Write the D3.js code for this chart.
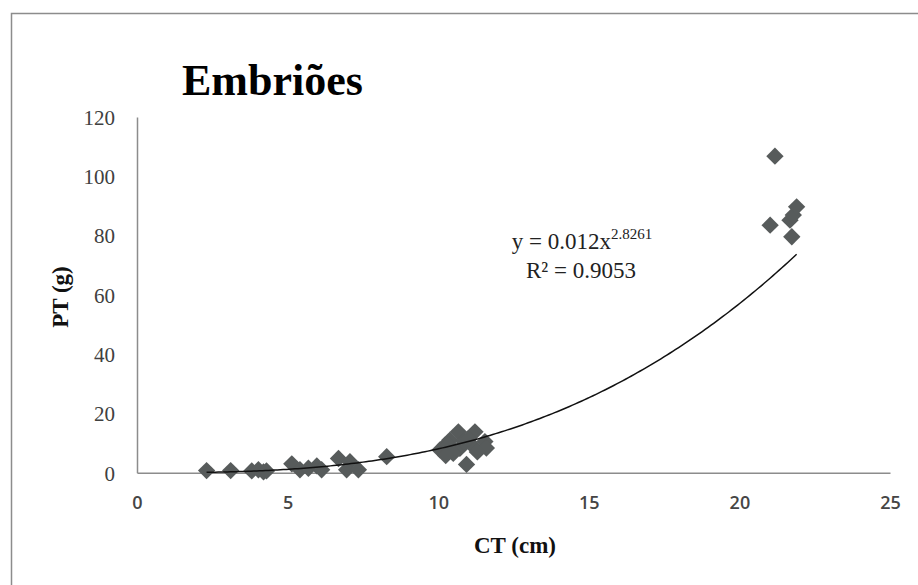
<!DOCTYPE html>
<html>
<head>
<meta charset="utf-8">
<script src="https://cdn.jsdelivr.net/npm/d3@7"></script>
<style>
  html, body { margin: 0; padding: 0; background: #fff; }
  svg { display: block; }
</style>
</head>
<body>
<svg id="chart" width="918" height="585"></svg>
<script>
// Embryo total length (CT, cm) vs total weight (PT, g)
const ctValues = [2.31, 3.11, 3.81, 4.03, 4.2, 4.3, 5.14, 5.41, 5.69, 5.97, 6.13,
  6.69, 7.07, 6.96, 7.35, 8.29, 10.06, 10.23, 10.39, 10.67, 10.72, 10.94, 11.17,
  11.22, 11.55, 11.6, 10.35, 10.5, 10.85, 11.0, 11.3, 10.25,
  21.02, 21.18, 21.68, 21.74, 21.79, 21.9];
const ptValues = [0.7, 0.7, 0.6, 1.0, 0.3, 0.6, 3.0, 1.0, 1.5, 2.3, 1.0,
  4.8, 3.7, 1.0, 1.0, 5.4, 7.7, 9.3, 11.0, 13.8, 8.2, 2.8, 8.8,
  13.8, 10.5, 8.3, 9.5, 6.5, 10.5, 11.5, 7.0, 5.8,
  83.5, 106.8, 85.2, 79.6, 86.9, 89.7];

// Power trendline fitted to the data: y = a * x^b
const fitA = 0.012;
const fitB = 2.8261;
const fitR2 = 0.9053;

const xTicks = [0, 5, 10, 15, 20, 25];
const yTicks = [0, 20, 40, 60, 80, 100, 120];

const svg = d3.select("#chart");

// chart frame
svg.append("rect")
  .attr("x", 11.5).attr("y", 13.5)
  .attr("width", 930).attr("height", 600)
  .attr("fill", "#fff")
  .attr("stroke", "#8c8c8c")
  .attr("stroke-width", 1.5);

const x = d3.scaleLinear().domain([0, 25]).range([137, 890]);
const y = d3.scaleLinear().domain([0, 120]).range([472.7, 117]);

// axes
const xAxis = d3.axisBottom(x).tickValues(xTicks).tickSize(0).tickPadding(0);
const yAxis = d3.axisLeft(y).tickValues(yTicks).tickSize(0).tickPadding(0);

const gx = svg.append("g").attr("transform", `translate(0,${y(0)})`).call(xAxis);
gx.select(".domain").attr("stroke", "#8c8c8c").attr("stroke-width", 1.5);
gx.selectAll(".tick text")
  .attr("y", 36).attr("dy", "0")
  .attr("font-family", "'Open Sans', 'Liberation Sans', sans-serif")
  .attr("font-size", 18)
  .attr("font-weight", 600)
  .attr("fill", "#454545");

const gy = svg.append("g").attr("transform", `translate(${x(0)},0)`).call(yAxis);
gy.select(".domain").attr("stroke", "#8c8c8c").attr("stroke-width", 1.5);
gy.selectAll(".tick text")
  .attr("x", -22).attr("dy", "0.35em")
  .attr("font-family", "'Liberation Serif', 'Times New Roman', serif")
  .attr("font-size", 21)
  .attr("fill", "#404040");

// trendline over the data range
const xMin = d3.min(ctValues), xMax = d3.max(ctValues);
const curve = d3.range(0, 201).map(i => {
  const cx = xMin + (xMax - xMin) * i / 200;
  return [cx, fitA * Math.pow(cx, fitB)];
});
const line = d3.line().x(d => x(d[0])).y(d => y(d[1]));

// points
const diamond = d3.symbol().type(d3.symbolSquare).size(150);
svg.append("g").selectAll("path")
  .data(ctValues.map((c, i) => [c, ptValues[i]]))
  .join("path")
  .attr("d", diamond)
  .attr("transform", d => `translate(${x(d[0])},${y(d[1])}) rotate(45)`)
  .attr("fill", "#575b5b");

svg.append("path")
  .datum(curve)
  .attr("d", line)
  .attr("fill", "none")
  .attr("stroke", "#111")
  .attr("stroke-width", 1.5);

// title
svg.append("text")
  .attr("x", 182).attr("y", 95)
  .attr("font-family", "'Liberation Serif', 'Times New Roman', serif")
  .attr("font-weight", "bold")
  .attr("font-size", 44)
  .attr("fill", "#000")
  .text("Embriões");

// axis titles
svg.append("text")
  .attr("x", 515).attr("y", 553)
  .attr("text-anchor", "middle")
  .attr("font-family", "'Liberation Serif', 'Times New Roman', serif")
  .attr("font-weight", "bold")
  .attr("font-size", 23)
  .attr("fill", "#111")
  .text("CT (cm)");

svg.append("text")
  .attr("transform", "translate(68,297) rotate(-90)")
  .attr("text-anchor", "middle")
  .attr("font-family", "'Liberation Serif', 'Times New Roman', serif")
  .attr("font-weight", "bold")
  .attr("font-size", 23)
  .attr("fill", "#111")
  .text("PT (g)");

// trendline equation
const eq = svg.append("text")
  .attr("x", 582).attr("y", 249)
  .attr("text-anchor", "middle")
  .attr("font-family", "'Liberation Serif', 'Times New Roman', serif")
  .attr("font-size", 23)
  .attr("fill", "#222");
eq.append("tspan").text(`y = ${fitA}x`);
eq.append("tspan").attr("dy", -10).attr("font-size", 15).text(fitB);

svg.append("text")
  .attr("x", 581).attr("y", 278)
  .attr("text-anchor", "middle")
  .attr("font-family", "'Liberation Serif', 'Times New Roman', serif")
  .attr("font-size", 23)
  .attr("fill", "#222")
  .text(`R² = ${fitR2}`);
</script>
</body>
</html>
